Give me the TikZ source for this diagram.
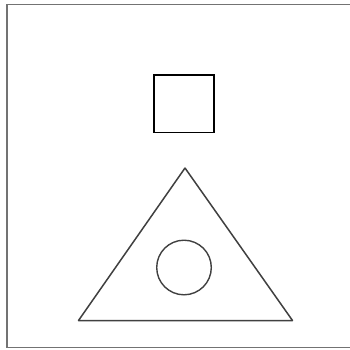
\documentclass[tikz,border=0pt]{standalone}
\begin{document}
\begin{tikzpicture}[x=1pt,y=-1pt,
  frame/.style={draw=black!55,line width=1.3pt},
  sq/.style={draw=black,line width=1.8pt},
  tri/.style={draw=black!75,line width=1.5pt,line join=round},
  circ/.style={draw=black!75,line width=1.4pt}]
\useasboundingbox (0,0) rectangle (350,349);
\fill[white] (0,0) rectangle (350,349);
\draw[frame] (352,4.5) -- (7,4.5) -- (7,347.5) -- (352,347.5);
\draw[sq] (154,75) rectangle (214,132.5);
\coordinate (apex) at (185,168);
\coordinate (bl) at (78.5,320.5);
\coordinate (br) at (292.5,320.5);
\draw[tri] (apex) -- (bl) -- (br) -- cycle;
\coordinate (cc) at (184,267.5);
\draw[circ] (cc) circle (27.3);
\end{tikzpicture}
\end{document}
